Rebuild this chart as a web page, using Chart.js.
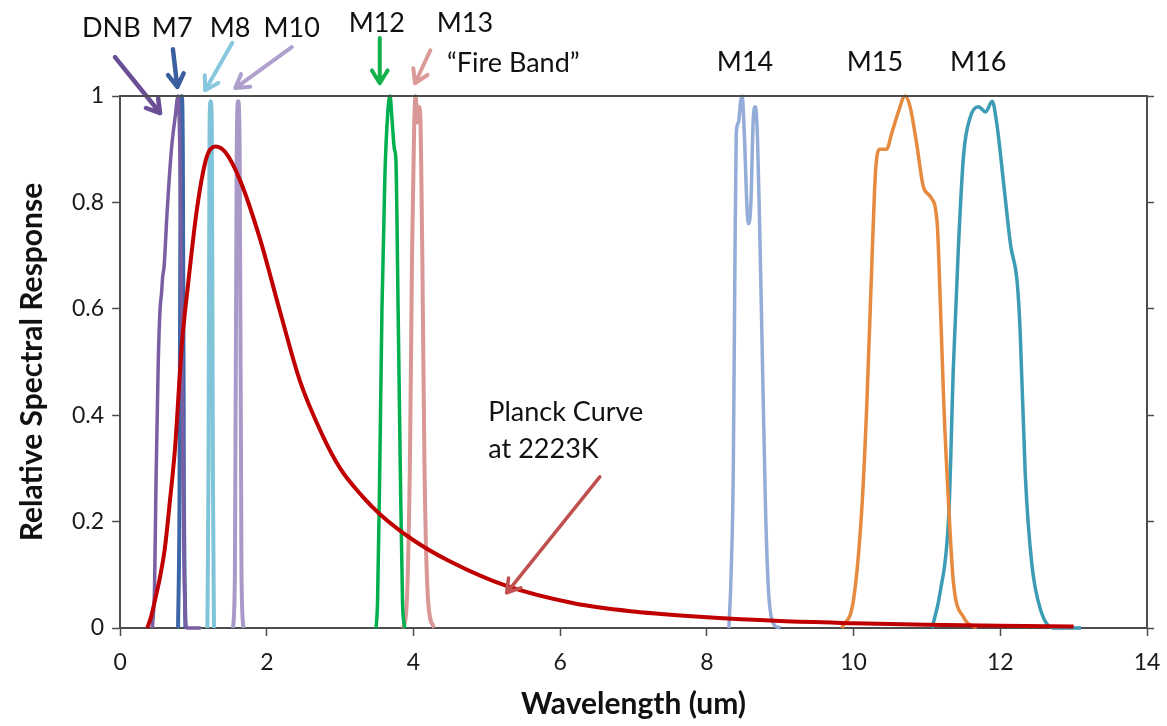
<!DOCTYPE html>
<html>
<head>
<meta charset="utf-8">
<title>VIIRS Relative Spectral Response</title>
<script src="https://cdn.jsdelivr.net/npm/chart.js@4.4.1/dist/chart.umd.min.js"></script>
<style>
    html, body { margin: 0; padding: 0; background: #ffffff; }
    #chart { display: block; }
</style>
</head>
<body>
<canvas id="chart" width="1167" height="726"></canvas>
<script>
"use strict"

// wavelength (um) / relative response
const dnbX = [0.44, 0.47, 0.49, 0.52, 0.545, 0.565, 0.58, 0.6, 0.64, 0.7, 0.75, 0.79, 0.82, 0.845, 0.87, 0.89, 0.91, 1.0, 1.1];
const dnbY = [0, 0.08, 0.28, 0.5, 0.6, 0.63, 0.66, 0.68, 0.78, 0.9, 0.96, 1.0, 0.85, 0.5, 0.15, 0.02, 0, 0, 0];

const m7X = [0.79, 0.81, 0.825, 0.84, 0.855, 0.87, 0.89];
const m7Y = [0, 0.25, 0.9, 1.0, 0.9, 0.25, 0];

const m8X = [1.19, 1.205, 1.22, 1.235, 1.25, 1.265, 1.28];
const m8Y = [0, 0.3, 0.95, 0.99, 0.95, 0.3, 0];

const m10X = [1.54, 1.565, 1.59, 1.61, 1.63, 1.655, 1.68];
const m10Y = [0, 0.1, 0.9, 0.99, 0.9, 0.1, 0];

const m12X = [3.49, 3.51, 3.54, 3.57, 3.61, 3.65, 3.68, 3.71, 3.74, 3.76, 3.79, 3.82, 3.85, 3.88];
const m12Y = [0, 0.05, 0.3, 0.6, 0.85, 0.97, 1.0, 0.95, 0.9, 0.88, 0.6, 0.3, 0.05, 0];

const m13X = [3.85, 3.9, 3.95, 3.98, 4.01, 4.03, 4.05, 4.07, 4.09, 4.12, 4.15, 4.2, 4.28];
const m13Y = [0, 0.03, 0.3, 0.7, 0.95, 1.0, 0.95, 0.98, 0.97, 0.7, 0.3, 0.05, 0];

const m14X = [8.3, 8.33, 8.36, 8.38, 8.4, 8.43, 8.46, 8.48, 8.51, 8.55, 8.57, 8.6, 8.63, 8.66, 8.69, 8.72, 8.75, 8.8, 8.84, 8.9, 9.0];
const m14Y = [0, 0.1, 0.3, 0.65, 0.93, 0.95, 0.99, 1.0, 0.93, 0.78, 0.76, 0.8, 0.95, 0.98, 0.92, 0.75, 0.55, 0.22, 0.07, 0.01, 0];

const m15X = [9.84, 10.0, 10.11, 10.18, 10.25, 10.3, 10.36, 10.45, 10.52, 10.61, 10.7, 10.77, 10.86, 10.95, 11.05, 11.14, 11.18, 11.23, 11.3, 11.36, 11.5, 11.68];
const m15Y = [0, 0.054, 0.22, 0.42, 0.69, 0.86, 0.9, 0.9, 0.93, 0.97, 1.0, 0.98, 0.91, 0.83, 0.81, 0.76, 0.62, 0.42, 0.22, 0.087, 0.02, 0];

const m16X = [11.07, 11.18, 11.3, 11.36, 11.43, 11.5, 11.59, 11.7, 11.8, 11.89, 11.95, 12.05, 12.14, 12.23, 12.27, 12.34, 12.43, 12.55, 12.73, 13.1];
const m16Y = [0, 0.067, 0.22, 0.49, 0.72, 0.89, 0.96, 0.98, 0.97, 0.99, 0.95, 0.83, 0.72, 0.65, 0.56, 0.29, 0.12, 0.034, 0, 0];

const planckX = [0.37, 0.42, 0.48, 0.55, 0.61, 0.68, 0.75, 0.84, 0.93, 1.05, 1.18, 1.3, 1.43, 1.64, 1.91, 2.18, 2.45, 2.75, 3.0, 3.3, 3.55, 4.0, 4.5, 5.25, 6.2, 7.0, 8.0, 9.0, 10.0, 11.0, 12.0, 13.0];
const planckY = [0, 0.02, 0.055, 0.1, 0.15, 0.24, 0.34, 0.53, 0.65, 0.79, 0.885, 0.905, 0.895, 0.84, 0.73, 0.595, 0.465, 0.365, 0.3, 0.248, 0.213, 0.165, 0.125, 0.08, 0.046, 0.031, 0.02, 0.013, 0.009, 0.006, 0.004, 0.003];

const bandNames = ['DNB', 'M7', 'M8', 'M10', 'M12', 'M13', 'M14', 'M15', 'M16'];
const xTicks = [0, 2, 4, 6, 8, 10, 12, 14];
const yTicks = [0, 0.2, 0.4, 0.6, 0.8, 1];


const app = {
    canvasContext: document.getElementById('chart').getContext('2d'),
    font: 'Lato, "Open Sans", sans-serif',
    axisColor: '#4d4d4d'
};


window.onload = () =>
{
    spectralChart();
}


function points(xs, ys)
{
    return xs.map((x, i) => ({ x: x, y: ys[i] }));
}


function series(label, xs, ys, color, width)
{
    return {
        label: label,
        data: points(xs, ys),
        borderColor: color,
        backgroundColor: color,
        borderWidth: width,
        pointRadius: 0,
        fill: false,
        cubicInterpolationMode: 'monotone',
        clip: 6
    };
}


function drawArrow(ctx, x1, y1, x2, y2, color, width, head)
{
    const angle = Math.atan2(y2 - y1, x2 - x1);

    ctx.save();
    ctx.strokeStyle = color;
    ctx.lineWidth = width;
    ctx.lineCap = 'round';
    ctx.lineJoin = 'round';
    ctx.beginPath();
    ctx.moveTo(x1, y1);
    ctx.lineTo(x2, y2);
    ctx.moveTo(x2 - head * Math.cos(angle - 0.55), y2 - head * Math.sin(angle - 0.55));
    ctx.lineTo(x2, y2);
    ctx.lineTo(x2 - head * Math.cos(angle + 0.55), y2 - head * Math.sin(angle + 0.55));
    ctx.stroke();
    ctx.restore();
}


// labels and arrows, placed in wavelength / response units
const notes =
{
    id: 'notes',
    afterDatasetsDraw(chart)
    {
        const ctx = chart.ctx;
        const sx = chart.scales.x;
        const sy = chart.scales.y;
        const px = v => sx.getPixelForValue(v);
        const py = v => sy.getPixelForValue(v);

        const arrows =
        [
            [-0.07, 1.073, 0.545, 0.968, '#6a4e96', 4.5],
            [0.72, 1.088, 0.78, 1.017, '#3b5f9e', 4.5],
            [1.53, 1.1, 1.16, 1.011, '#88c8de', 4],
            [2.34, 1.092, 1.57, 1.015, '#ae9fcc', 4],
            [3.54, 1.109, 3.54, 1.024, '#14b24c', 4],
            [4.23, 1.086, 4.02, 1.024, '#dc9a98', 4],
            [6.54, 0.284, 5.27, 0.066, '#c0504d', 3.5]
        ];
        arrows.forEach(a => drawArrow(ctx, px(a[0]), py(a[1]), px(a[2]), py(a[3]), a[4], a[5], 15));

        const labels =
        [
            [bandNames[0], -0.12, 1.128],
            [bandNames[1], 0.71, 1.128],
            [bandNames[2], 1.5, 1.128],
            [bandNames[3], 2.34, 1.128],
            [bandNames[4], 3.5, 1.137],
            [bandNames[5], 4.7, 1.137],
            ['\u201CFire Band\u201D', 5.36, 1.062],
            [bandNames[6], 8.52, 1.064],
            [bandNames[7], 10.29, 1.064],
            [bandNames[8], 11.7, 1.064]
        ];

        ctx.save();
        ctx.fillStyle = '#111111';
        ctx.font = '27px ' + app.font;
        ctx.textAlign = 'center';
        ctx.textBaseline = 'middle';
        labels.forEach(l => ctx.fillText(l[0], px(l[1]), py(l[2])));

        ctx.textAlign = 'left';
        ctx.fillText('Planck Curve', px(5.02), py(0.406));
        ctx.fillText('at 2223K', px(5.02), py(0.335));

        // top frame line
        ctx.strokeStyle = app.axisColor;
        ctx.lineWidth = 2;
        ctx.beginPath();
        ctx.moveTo(chart.chartArea.left, chart.chartArea.top);
        ctx.lineTo(chart.chartArea.right, chart.chartArea.top);
        ctx.stroke();
        ctx.restore();
    }
};


function spectralChart()
{
    const tickFont = { family: app.font, size: 23 };
    const titleFont = { family: app.font, size: 30, weight: 'bold' };

    const data =
    {
        datasets:
        [
            series('Planck Curve at 2223K', planckX, planckY, '#c00000', 4),
            series(bandNames[0], dnbX, dnbY, '#7a5ea3', 3.5),
            series(bandNames[1], m7X, m7Y, '#3d66a8', 4),
            series(bandNames[2], m8X, m8Y, '#80c4da', 4),
            series(bandNames[3], m10X, m10Y, '#a999c8', 4),
            series(bandNames[4], m12X, m12Y, '#00b04f', 3.5),
            series(bandNames[5], m13X, m13Y, '#d99795', 4),
            series(bandNames[6], m14X, m14Y, '#93acd8', 3.5),
            series(bandNames[7], m15X, m15Y, '#e58a3e', 3.5),
            series(bandNames[8], m16X, m16Y, '#3c9bb5', 3.5)
        ]
    };

    const config =
    {
        type: 'line',
        data: data,
        plugins: [notes],
        options:
        {
            responsive: false,
            animation: false,
            layout: { padding: { top: 96, right: 14, left: 14, bottom: 4 } },
            plugins:
            {
                legend: { display: false },
                tooltip: { enabled: false }
            },
            scales:
            {
                x:
                {
                    type: 'linear',
                    min: xTicks[0],
                    max: xTicks[xTicks.length - 1],
                    afterBuildTicks: axis => { axis.ticks = xTicks.map(v => ({ value: v })); },
                    afterFit: axis => { axis.height = 94; axis.paddingRight = 14; },
                    ticks: { font: tickFont, color: '#1a1a1a', padding: 13 },
                    grid: { drawOnChartArea: false, tickLength: 8, color: app.axisColor, tickWidth: 1.5 },
                    border: { color: app.axisColor, width: 2 },
                    title: { display: true, text: 'Wavelength (um)', font: titleFont, color: '#111111', padding: { top: 6, bottom: 0 } }
                },
                y:
                {
                    min: yTicks[0],
                    max: yTicks[yTicks.length - 1],
                    afterBuildTicks: axis => { axis.ticks = yTicks.map(v => ({ value: v })); },
                    ticks: { font: tickFont, color: '#1a1a1a', padding: 8, callback: v => String(v) },
                    grid: { drawOnChartArea: false, tickLength: 8, color: app.axisColor, tickWidth: 1.5 },
                    border: { color: app.axisColor, width: 2 },
                    title: { display: true, text: 'Relative Spectral Response', font: titleFont, color: '#111111', padding: { top: 0, bottom: 14 } }
                },
                y2:
                {
                    position: 'right',
                    min: yTicks[0],
                    max: yTicks[yTicks.length - 1],
                    afterBuildTicks: axis => { axis.ticks = yTicks.map(v => ({ value: v })); },
                    afterFit: axis => { axis.width = 6; },
                    ticks: { display: false },
                    grid: { drawOnChartArea: false, tickLength: 7, color: app.axisColor, tickWidth: 1.5 },
                    border: { color: app.axisColor, width: 2 }
                }
            }
        }
    };

    const myChart = new Chart(app.canvasContext, config);
}
</script>
</body>
</html>
